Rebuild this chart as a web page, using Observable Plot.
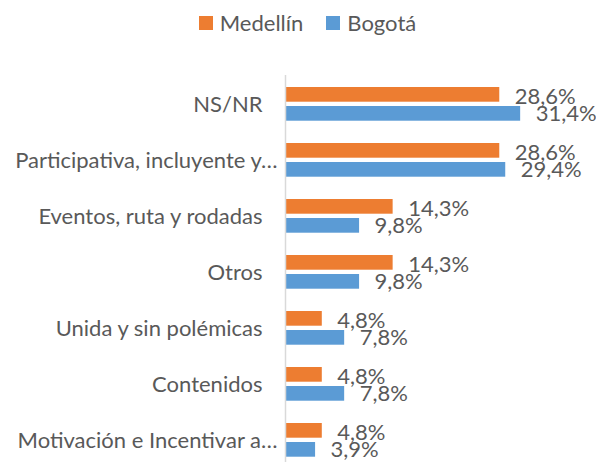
<!DOCTYPE html>
<html>
<head>
<meta charset="utf-8">
<script src="https://cdn.jsdelivr.net/npm/d3@7"></script>
<script src="https://cdn.jsdelivr.net/npm/@observablehq/plot@0.6"></script>
<style>
  html, body { margin: 0; padding: 0; background: #fff; overflow: hidden; }
  #wrap { position: relative; width: 596px; height: 462px; font-family: Lato, "Open Sans", sans-serif; }
  #legend { position: absolute; top: 9px; left: 0; width: 596px; display: flex; justify-content: center; gap: 23px; font-size: 22px; color: #595959; padding-left: 19px; box-sizing: border-box; }
  .item { display: flex; align-items: center; gap: 7px; }
  .sw { width: 14px; height: 14px; display: inline-block; }
  #chart { position: absolute; top: 0; left: 0; }
</style>
</head>
<body>
<div id="wrap">
  <div id="legend"></div>
  <div id="chart"></div>
</div>
<script>
const categories = ["NS/NR", "Participativa, incluyente y…", "Eventos, ruta y rodadas", "Otros", "Unida y sin polémicas", "Contenidos", "Motivación e Incentivar a…"];
const seriesNames = ["Medellín", "Bogotá"];
const medellin = [28.6, 28.6, 14.3, 14.3, 4.8, 4.8, 4.8];
const bogota = [31.4, 29.4, 9.8, 9.8, 7.8, 7.8, 3.9];
const colors = ["#ED7D31", "#5B9BD5"];

const rows = [];
categories.forEach((c, i) => {
  rows.push({category: c, series: seriesNames[0], value: medellin[i]});
  rows.push({category: c, series: seriesNames[1], value: bogota[i]});
});
const med = rows.filter(d => d.series === seriesNames[0]);
const bog = rows.filter(d => d.series === seriesNames[1]);
const fmt = v => v.toFixed(1).replace(".", ",") + "%";
const cats = categories.map(c => ({category: c}));

const legend = document.getElementById("legend");
seriesNames.forEach((s, i) => {
  const it = document.createElement("div");
  it.className = "item";
  it.innerHTML = `<span class="sw" style="background:${colors[i]}"></span><span>${s}</span>`;
  legend.appendChild(it);
});

const textColor = "#595959";
const fs = "22px";
const chart = Plot.plot({
  width: 596,
  height: 469,
  marginTop: 75,
  marginBottom: 0,
  marginLeft: 286,
  marginRight: 49,
  style: {fontFamily: "Lato, 'Open Sans', sans-serif", background: "transparent", overflow: "visible"},
  x: {domain: [0, 35], axis: null},
  y: {domain: categories, padding: 0, axis: null},
  marks: [
    Plot.barX(med, {x: "value", y: "category", fill: colors[0], insetTop: 11, insetBottom: 30.3}),
    Plot.barX(bog, {x: "value", y: "category", fill: colors[1], insetTop: 30, insetBottom: 11.3}),
    Plot.text(med, {x: "value", y: "category", text: d => fmt(d.value), dx: 15, dy: -8, textAnchor: "start", fill: textColor, fontSize: fs}),
    Plot.text(bog, {x: "value", y: "category", text: d => fmt(d.value), dx: 15, dy: 9.5, textAnchor: "start", fill: textColor, fontSize: fs}),
    Plot.text(cats, {x: () => 0, y: "category", text: "category", textAnchor: "end", dx: -24, fill: textColor, fontSize: fs, filter: d => !d.category.endsWith("…")}),
    Plot.text(cats, {x: () => 0, y: "category", text: "category", textAnchor: "end", dx: -9, fill: textColor, fontSize: fs, filter: d => d.category.endsWith("…")}),
    Plot.ruleX([0], {stroke: "#D9D9D9", strokeWidth: 1.5, dx: -1})
  ]
});
document.getElementById("chart").appendChild(chart);
</script>
</body>
</html>
